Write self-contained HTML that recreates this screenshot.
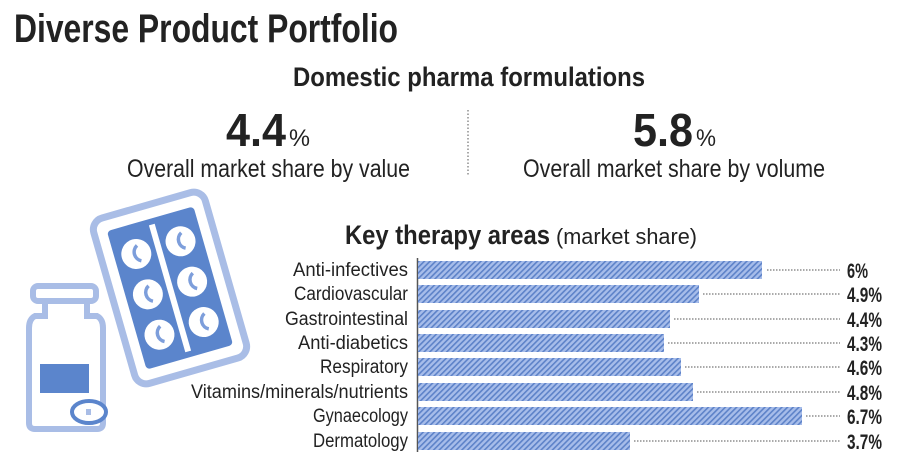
<!DOCTYPE html>
<html><head><meta charset="utf-8"><style>
html,body{margin:0;padding:0;background:#fff;}
svg{display:block;}
text{font-family:"Liberation Sans Narrow","Liberation Sans",sans-serif;fill:#222;}
</style></head><body>
<svg width="900" height="466" viewBox="0 0 900 466" xmlns="http://www.w3.org/2000/svg">
<defs>
<pattern id="h" patternUnits="userSpaceOnUse" width="4" height="4" patternTransform="rotate(45)">
<rect width="4" height="4" fill="#a7bdea"/>
<rect width="1.6" height="4" fill="#5d82c8"/>
</pattern>
</defs>
<text x="14" y="42" font-size="40" font-weight="bold" textLength="384" lengthAdjust="spacingAndGlyphs">Diverse Product Portfolio</text>
<text x="293" y="86" font-size="27" font-weight="bold" textLength="352" lengthAdjust="spacingAndGlyphs">Domestic pharma formulations</text>
<text x="226" y="146" font-size="46" font-weight="bold" textLength="60" lengthAdjust="spacingAndGlyphs">4.4</text>
<text x="289" y="146" font-size="24" textLength="21" lengthAdjust="spacingAndGlyphs">%</text>
<text x="127" y="177" font-size="25" textLength="283" lengthAdjust="spacingAndGlyphs">Overall market share by value</text>
<line x1="468" y1="110" x2="468" y2="176" stroke="#555" stroke-width="1" stroke-dasharray="1.5,2"/>
<text x="633" y="146" font-size="46" font-weight="bold" textLength="60" lengthAdjust="spacingAndGlyphs">5.8</text>
<text x="696" y="146" font-size="24" textLength="20" lengthAdjust="spacingAndGlyphs">%</text>
<text x="523" y="177" font-size="25" textLength="302" lengthAdjust="spacingAndGlyphs">Overall market share by volume</text>
<text x="345" y="244" font-size="27" font-weight="bold" textLength="205" lengthAdjust="spacingAndGlyphs">Key therapy areas</text>
<text x="556" y="244" font-size="22" textLength="141" lengthAdjust="spacingAndGlyphs">(market share)</text>

<!-- icons -->
<g transform="translate(170,288) rotate(-16)">
<rect x="-58" y="-86" width="116" height="172" rx="12" fill="#fff" stroke="#a9bde6" stroke-width="7"/>
<rect x="-45" y="-72" width="90" height="144" rx="4" fill="#5b85cc"/>
<rect x="-3" y="-66" width="6" height="132" fill="#fff"/>
<g fill="#fff">
<circle cx="-23" cy="-42" r="15"/><circle cx="-23" cy="0" r="15"/><circle cx="-23" cy="42" r="15"/>
<circle cx="23" cy="-42" r="15"/><circle cx="23" cy="0" r="15"/><circle cx="23" cy="42" r="15"/>
</g>
<g fill="none" stroke="#7d9edb" stroke-width="3.5">
<path d="M-20,-50 a9,9 0 0,0 0,16"/><path d="M-20,-8 a9,9 0 0,0 0,16"/><path d="M-20,34 a9,9 0 0,0 0,16"/>
<path d="M26,-50 a9,9 0 0,0 0,16"/><path d="M26,-8 a9,9 0 0,0 0,16"/><path d="M26,34 a9,9 0 0,0 0,16"/>
</g>
</g>
<g fill="none" stroke="#a9bde6" stroke-width="6">
<rect x="33" y="286" width="63" height="15" rx="5"/>
<path d="M45,303 v13 h-10 q-6,3 -6,12 v95 q0,6 6,6 h62 q6,0 6,-6 v-95 q0,-9 -6,-12 h-10 v-13"/>
</g>
<rect x="40" y="364" width="49" height="29" fill="#5b85cc"/>
<ellipse cx="89" cy="412" rx="17" ry="11" fill="#fff" stroke="#5b85cc" stroke-width="4"/>
<rect x="86" y="409" width="5" height="6" fill="#a9bde6"/>

<!-- chart -->
<line x1="417.5" y1="258" x2="417.5" y2="452" stroke="#555" stroke-width="1.5"/>
<g font-size="19" text-anchor="end">
<text x="408" y="276" textLength="115" lengthAdjust="spacingAndGlyphs">Anti-infectives</text>
<text x="408" y="300" textLength="114" lengthAdjust="spacingAndGlyphs">Cardiovascular</text>
<text x="408" y="325" textLength="123" lengthAdjust="spacingAndGlyphs">Gastrointestinal</text>
<text x="408" y="349" textLength="110" lengthAdjust="spacingAndGlyphs">Anti-diabetics</text>
<text x="408" y="373" textLength="88" lengthAdjust="spacingAndGlyphs">Respiratory</text>
<text x="408" y="398" textLength="217" lengthAdjust="spacingAndGlyphs">Vitamins/minerals/nutrients</text>
<text x="408" y="422" textLength="95" lengthAdjust="spacingAndGlyphs">Gynaecology</text>
<text x="408" y="447" textLength="95" lengthAdjust="spacingAndGlyphs">Dermatology</text>
</g>
<g fill="url(#h)">
<rect x="418" y="261" width="344" height="18"/>
<rect x="418" y="285" width="281" height="18"/>
<rect x="418" y="310" width="252" height="18"/>
<rect x="418" y="334" width="246" height="18"/>
<rect x="418" y="358" width="263" height="18"/>
<rect x="418" y="383" width="275" height="18"/>
<rect x="418" y="407" width="384" height="18"/>
<rect x="418" y="432" width="212" height="18"/>
</g>
<g stroke="#555" stroke-width="1" stroke-dasharray="1.5,1.5">
<line x1="767" y1="270" x2="840" y2="270"/>
<line x1="703" y1="294" x2="840" y2="294"/>
<line x1="674" y1="319" x2="840" y2="319"/>
<line x1="668" y1="343" x2="840" y2="343"/>
<line x1="685" y1="367" x2="840" y2="367"/>
<line x1="697" y1="392" x2="840" y2="392"/>
<line x1="806" y1="416" x2="840" y2="416"/>
<line x1="634" y1="441" x2="840" y2="441"/>
</g>
<g font-size="21" font-weight="bold">
<text x="847" y="278" textLength="21" lengthAdjust="spacingAndGlyphs">6%</text>
<text x="847" y="302" textLength="35" lengthAdjust="spacingAndGlyphs">4.9%</text>
<text x="847" y="327" textLength="35" lengthAdjust="spacingAndGlyphs">4.4%</text>
<text x="847" y="351" textLength="35" lengthAdjust="spacingAndGlyphs">4.3%</text>
<text x="847" y="375" textLength="35" lengthAdjust="spacingAndGlyphs">4.6%</text>
<text x="847" y="400" textLength="35" lengthAdjust="spacingAndGlyphs">4.8%</text>
<text x="847" y="424" textLength="35" lengthAdjust="spacingAndGlyphs">6.7%</text>
<text x="847" y="449" textLength="35" lengthAdjust="spacingAndGlyphs">3.7%</text>
</g>
</svg>
</body></html>
